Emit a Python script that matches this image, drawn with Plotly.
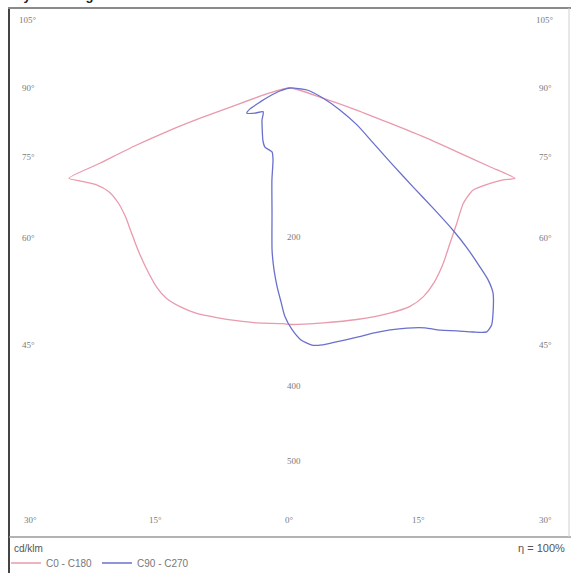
import numpy as np
import plotly.graph_objects as go

# ---- data (angle in degrees from nadir, positive to the right; intensity cd/klm)
c0_angles = [-78, -75.6, -72.4, -71.4, -70.5, -69.5, -68.4, -67.8, -65.6, -63.4,
             -60.3, -56.1, -52.0, -47.5, -43.1, -38.2, -33.9, -30.4, -26.7, -22.5,
             -17.7, -12.9, -8.1, -1.6, 0, 8.1, 16.1, 23.9, 28.8, 32.6,
             36.3, 41.2, 45.8, 50.9, 56.4, 60.9, 64.5, 66.7, 68.1, 68.5,
             69.1, 69.9, 70.6, 71.7, 72.8, 76]
c0_values = [0, 32, 80, 127, 175, 224, 274, 320, 304, 290,
             280, 277, 280, 288, 298, 310, 321, 327, 328, 327,
             323, 320, 318, 316, 317, 318, 323, 330, 334, 332,
             325, 312, 299, 288, 279, 281, 297, 311, 325, 288,
             239, 190, 142, 94, 47, 0]

c90_angles = [-80, -73.3, -68.2, -65.0, -62.3, -59.8, -54.5, -48.4, -41.2, -35.7,
              -27.4, -23.0, -15.7, -13.3, -11.1, -8.2, -6.3, -5.0, -3.7, -2.4,
              -1.3, 0.5, 2.5, 4.9, 7.1, 9.8, 15.1, 18.7, 22.5, 26.0,
              29.4, 31.8, 34.5, 36.9, 38.9, 40.4, 42.1, 44.7, 45.9, 46.7,
              47.9, 48.9, 50.0, 51.2, 53.2, 56.5, 61.1, 66.3, 73.1, 83.3, 90]
c90_values = [0, 14, 29, 44, 61, 67, 58, 48, 57, 64,
              79, 86, 89, 99, 126, 169, 219, 245, 267, 287,
              306, 324, 338, 346, 347, 346, 346, 347, 351, 358,
              369, 382, 395, 409, 420, 417, 406, 387, 370, 350,
              320, 290, 250, 212, 172, 134, 103, 73, 46, 23, 0]

series_names = ["C0 - C180", "C90 - C270"]
side_angle_labels = [105, 90, 75, 60, 45]
bottom_angle_labels = [30, 15, 0, 15, 30]
radial_labels = [200, 400, 500]

# ---- geometry
W, H = 571, 573
ML, MR, MT, MB = 10, 2, 8, 36
PW, PH = W - ML - MR, H - MT - MB
SCALE = 0.746          # px per cd/klm
OX, OY = 290, 88       # pixel position of the polar origin
x_range = [(ML - OX) / SCALE, (W - MR - OX) / SCALE]
y_range = [(OY - (H - MB)) / SCALE, (OY - MT) / SCALE]


def to_xy(angles, vals):
    a = np.radians(np.array(angles, dtype=float))
    v = np.array(vals, dtype=float)
    return v * np.sin(a), -v * np.cos(a)


def px(xp):
    return (xp - ML) / PW


def py(yp):
    return (H - MB - yp) / PH


fig = go.Figure()
colors = ["#e99aac", "#6a70cc"]
for name, ang, val, col in [(series_names[0], c0_angles, c0_values, colors[0]),
                            (series_names[1], c90_angles, c90_values, colors[1])]:
    x, y = to_xy(ang, val)
    fig.add_trace(go.Scatter(x=x, y=y, mode="lines", name=name,
                             line=dict(color=col, width=1.3, shape="spline", smoothing=0.6),
                             hoverinfo="skip"))

label_font = dict(family="Liberation Serif, DejaVu Serif, serif", size=9, color="#7a7a7a")
ann = []
side_rows = [20, 88, 157, 238, 345]
for lab, yp in zip(side_angle_labels, side_rows):
    ann.append(dict(x=px(28), y=py(yp), xref="paper", yref="paper", text=f"{lab}°",
                    showarrow=False, font=label_font, xanchor="center", yanchor="middle"))
    ann.append(dict(x=px(545), y=py(yp), xref="paper", yref="paper", text=f"{lab}°",
                    showarrow=False, font=label_font, xanchor="center", yanchor="middle"))
bottom_cols = [30, 155, 289, 418, 545]
for lab, xp in zip(bottom_angle_labels, bottom_cols):
    ann.append(dict(x=px(xp), y=py(520), xref="paper", yref="paper", text=f"{lab}°",
                    showarrow=False, font=label_font, xanchor="center", yanchor="middle"))
for r in radial_labels:
    ann.append(dict(x=0, y=-r, xref="x", yref="y", text=str(r), xshift=4,
                    showarrow=False, font=label_font, xanchor="center", yanchor="middle"))
ann.append(dict(x=px(12), y=py(548), xref="paper", yref="paper", text="cd/klm",
                showarrow=False, xanchor="left", yanchor="middle",
                font=dict(family="Liberation Sans, Arial, sans-serif", size=10, color="#555")))
ann.append(dict(x=px(567), y=py(548), xref="paper", yref="paper", text="η = 100%",
                showarrow=False, xanchor="right", yanchor="middle",
                font=dict(family="Liberation Sans, Arial, sans-serif", size=11, color="#555")))
# title, mostly cut off at the very top like in the reference
ann.append(dict(x=px(14), y=py(5), xref="paper", yref="paper",
                text="<b>Lysfordeling C0 - C180 / C90 - C270</b>",
                showarrow=False, xanchor="left", yanchor="bottom",
                font=dict(family="Liberation Sans, Arial, sans-serif", size=13, color="#222")))

shapes = [
    dict(type="line", xref="paper", yref="paper", x0=px(9), x1=px(9), y0=py(H), y1=py(7),
         line=dict(color="#444", width=2)),
    dict(type="line", xref="paper", yref="paper", x0=px(8), x1=px(W), y0=py(8), y1=py(8),
         line=dict(color="#8a8a8a", width=2)),
    dict(type="line", xref="paper", yref="paper", x0=px(9), x1=px(W), y0=py(537), y1=py(537),
         line=dict(color="#9a9a9a", width=1.5)),
    dict(type="line", xref="paper", yref="paper", x0=px(569), x1=px(569), y0=py(537), y1=py(8),
         line=dict(color="#d0d0d0", width=1)),
]

fig.update_layout(
    width=W,
    margin=dict(l=ML, r=MR, t=MT, b=MB, autoexpand=False),
    paper_bgcolor="white", plot_bgcolor="white",
    xaxis=dict(range=x_range, visible=False, fixedrange=True),
    yaxis=dict(range=y_range, visible=False, fixedrange=True),
    showlegend=True,
    legend=dict(orientation="h", x=px(6), y=py(563), xanchor="left", yanchor="middle",
                font=dict(family="Liberation Sans, Arial, sans-serif", size=10, color="#777"),
                bgcolor="rgba(0,0,0,0)", itemwidth=30, tracegroupgap=0),
    annotations=ann,
    shapes=shapes,
)

# initial page = 8 + 557 + 8 = 573 px tall; afterwards drop the body margin
# and grow the figure to the full 571 x 573 window.
js = ("var gd=document.getElementById('{plot_id}');"
      "document.documentElement.style.overflow='hidden';"
      "document.body.style.margin='0';document.body.style.overflow='hidden';"
      "gd.style.height='%dpx';Plotly.relayout(gd,{height:%d,width:%d});" % (H, H, W))
fig.write_html("out.html", config={"displayModeBar": False, "staticPlot": True},
               default_height="%dpx" % (H - 16), post_script=js)
